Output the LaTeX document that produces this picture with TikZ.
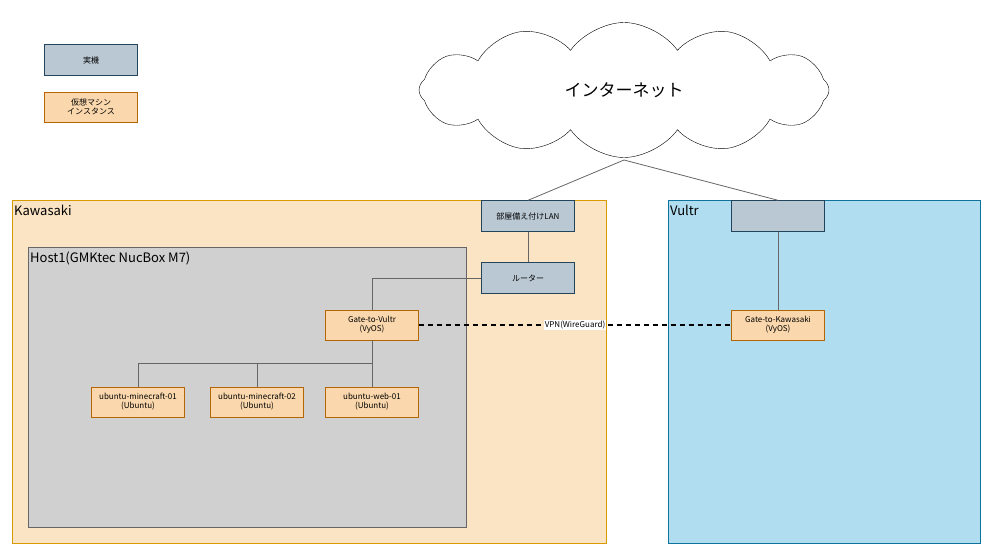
\documentclass[tikz,border=0pt]{standalone}
\usepackage{fontspec}
\setmainfont{Noto Sans CJK JP}
\usetikzlibrary{positioning,shapes.symbols}
\definecolor{physfill}{HTML}{BAC8D3}
\definecolor{physline}{HTML}{23445D}
\definecolor{vmfill}{HTML}{FAD7AC}
\definecolor{vmline}{HTML}{B46504}
\definecolor{kawafill}{HTML}{FAE4C4}
\definecolor{kawaline}{HTML}{D79B00}
\definecolor{vulfill}{HTML}{B1DDF0}
\definecolor{vulline}{HTML}{10739E}
\definecolor{hostfill}{HTML}{D0D0D0}
\tikzset{
  phys/.style={draw=physline,fill=physfill,minimum width=93pt,minimum height=31pt,inner sep=0pt,font=\fontsize{8}{9}\selectfont,align=center},
  vm/.style={draw=vmline,fill=vmfill,minimum width=93pt,minimum height=30pt,inner sep=0pt,font=\fontsize{8}{9}\selectfont,align=center},
  link/.style={draw=black!60,line width=0.8pt},
  title/.style={anchor=north west,font=\fontsize{13}{14}\selectfont,inner sep=2pt}
}
\begin{document}
\begin{tikzpicture}[x=1pt,y=-1pt]
  \useasboundingbox (0,0) rectangle (992,557);
  % legend
  \node[phys] (legphys) at (91,60) {実機};
  \node[vm] (legvm) at (91,107) {仮想マシン\\インスタンス};
  % regions
  \draw[kawaline,fill=kawafill] (12,200) rectangle (606,543);
  \node[title] (kawa) at (12,203) {Kawasaki};
  \draw[vulline,fill=vulfill] (668,200) rectangle (980,543);
  \node[title] (vul) at (668,203) {Vultr};
  \draw[black!60,fill=hostfill] (28,247) rectangle (466,527);
  \node[title] (host) at (28,250) {Host1(GMKtec NucBox M7)};
  % cloud
  \node[cloud,draw=black,fill=white,cloud puffs=12,cloud puff arc=110,aspect=3,minimum width=410pt,minimum height=135pt,font=\fontsize{17}{18}\selectfont] (net) at (624,90) {インターネット};
  % physical
  \node[phys] (lan) at (528,216) {部屋備え付けLAN};
  \node[phys] (router) at (528,278) {ルーター};
  \node[phys] (vbox) at (778,216) {};
  % vms
  \node[vm] (gvul) at (372,325) {Gate-to-Vultr\\(VyOS)};
  \node[vm] (gkawa) at (778,325) {Gate-to-Kawasaki\\(VyOS)};
  \node[vm] (mc1) at (138,402) {ubuntu-minecraft-01\\(Ubuntu)};
  \node[vm] (mc2) at (257,402) {ubuntu-minecraft-02\\(Ubuntu)};
  \node[vm] (web) at (372,402) {ubuntu-web-01\\(Ubuntu)};
  % links
  \coordinate (netb) at (624,160);
  \draw[link] (netb) -- (lan.north);
  \draw[link] (netb) -- (vbox.north);
  \draw[link] (lan) -- (router);
  \draw[link] (router.west) -| (gvul.north);
  \draw[link] (vbox) -- (gkawa);
  \coordinate (bus) at (372,363);
  \draw[link] (gvul.south) -- (bus) -| (mc1.north);
  \draw[link] (bus) -| (mc2.north);
  \draw[link] (bus) -- (web.north);
  \draw[line width=1.6pt,dash pattern=on 5pt off 4pt] (gvul.east) -- node[fill=white,inner sep=1pt,font=\fontsize{8}{9}\selectfont] (vpn) {VPN(WireGuard)} (gkawa.west);
\end{tikzpicture}
\end{document}
